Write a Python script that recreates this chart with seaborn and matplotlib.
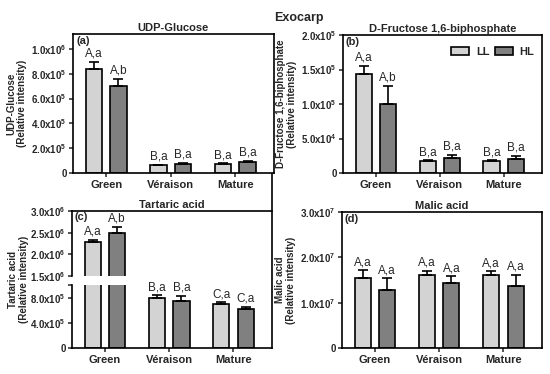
import numpy as np
import pandas as pd
import matplotlib
matplotlib.use("Agg")
import matplotlib.pyplot as plt
import seaborn as sns

# data
stages = ["Green", "Véraison", "Mature"]
lights = ["LL", "HL"]

udp_ll = [8.4e5, 0.62e5, 0.72e5]
udp_ll_err = [0.55e5, 0.04e5, 0.06e5]
udp_hl = [6.97e5, 0.72e5, 0.88e5]
udp_hl_err = [0.62e5, 0.10e5, 0.12e5]
udp_lab_ll = ["A,a", "B,a", "B,a"]
udp_lab_hl = ["A,b", "B,a", "B,a"]

fbp_ll = [1.44e5, 0.175e5, 0.175e5]
fbp_ll_err = [0.11e5, 0.01e5, 0.01e5]
fbp_hl = [1.0e5, 0.215e5, 0.21e5]
fbp_hl_err = [0.26e5, 0.05e5, 0.04e5]
fbp_lab_ll = ["A,a", "B,a", "B,a"]
fbp_lab_hl = ["A,b", "B,a", "B,a"]

tart_ll = [2.29e6, 8.0e5, 7.0e5]
tart_ll_err = [0.04e6, 0.4e5, 0.25e5]
tart_hl = [2.49e6, 7.4e5, 6.15e5]
tart_hl_err = [0.15e6, 0.85e5, 0.35e5]
tart_lab_ll = ["A,a", "B,a", "C,a"]
tart_lab_hl = ["A,b", "B,a", "C,a"]

mal_ll = [1.54e7, 1.62e7, 1.60e7]
mal_ll_err = [0.17e7, 0.08e7, 0.09e7]
mal_hl = [1.29e7, 1.43e7, 1.37e7]
mal_hl_err = [0.25e7, 0.15e7, 0.25e7]
mal_lab_ll = ["A,a", "A,a", "A,a"]
mal_lab_hl = ["A,a", "A,a", "A,a"]

sns.set_style("ticks")
plt.rcParams["font.family"] = ["Liberation Sans", "DejaVu Sans"]
plt.rcParams["mathtext.fontset"] = "custom"
plt.rcParams["mathtext.bf"] = "Liberation Sans:bold"
plt.rcParams["mathtext.rm"] = "Liberation Sans:bold"
plt.rcParams["mathtext.default"] = "bf"

palette = {"LL": "#d3d3d3", "HL": "#808080"}


def sci(v):
    if v == 0:
        return "0"
    e = int(np.floor(np.log10(v)))
    m = v / 10 ** e
    return f"{m:.1f}x10$^{{{e}}}$"


def make_df(ll, hl):
    return pd.DataFrame({
        "stage": stages * 2,
        "light": ["LL"] * 3 + ["HL"] * 3,
        "value": list(ll) + list(hl),
    })


def draw_bars(ax, df, legend=False):
    sns.barplot(data=df, x="stage", y="value", hue="light", hue_order=lights,
                palette=palette, width=0.76, gap=0.34, edgecolor="black",
                linewidth=1.2, errorbar=None, ax=ax, legend=legend)
    ax.set_xlim(-0.515, 2.6)
    ax.set_xlabel("")
    ax.set_ylabel("")


def add_err(ax, errs):
    for cont, err in zip(ax.containers, errs):
        for bar, e in zip(cont, err):
            x = bar.get_x() + bar.get_width() / 2
            h = bar.get_height()
            ax.errorbar(x, h, yerr=[[0], [e]], color="black", capsize=3.5,
                        elinewidth=1.2, capthick=1.2, zorder=1)


def add_letters(axes, vals, errs, labels, split=None):
    # axes: one axis, or (upper, lower) pair for broken axis
    ref = axes[-1]
    for cont, v, er, lab in zip(ref.containers, vals, errs, labels):
        for j, bar in enumerate(cont):
            x = bar.get_x() + bar.get_width() / 2
            top = v[j] + er[j]
            ax = axes[0] if (split is not None and top > split) else ref
            ax.annotate(lab[j], (x, top), xytext=(0, 1.5), textcoords="offset points",
                        ha="center", va="bottom", fontsize=8.5, fontweight="normal")


def style_ax(ax, title=None, tag=None, ylabel=None, ticks=None):
    for s in ax.spines.values():
        s.set_visible(True)
        s.set_linewidth(1.2)
        s.set_color("black")
    ax.tick_params(axis="both", direction="out", length=3, width=1.1, labelsize=7, pad=1.5)
    ax.tick_params(axis="x", labelsize=8, pad=2)
    for lbl in ax.get_xticklabels():
        lbl.set_fontweight("bold")
    if ticks is not None:
        ax.set_yticks(ticks)
        ax.set_yticklabels([sci(t) for t in ticks], fontweight="bold")
    if title:
        ax.set_title(title, fontsize=8, fontweight="bold", pad=2)
    if tag:
        ax.text(0.015, 0.985, tag, transform=ax.transAxes, ha="left", va="top",
                fontsize=8, fontweight="bold")
    if ylabel:
        ax.set_ylabel(ylabel, fontsize=7, fontweight="bold", labelpad=3, linespacing=1.1)


fig = plt.figure(figsize=(5.5, 3.74), dpi=100)

# (a) UDP-Glucose
ax_a = fig.add_axes([0.1327, 0.5374, 0.3655, 0.3717])
draw_bars(ax_a, make_df(udp_ll, udp_hl))
ax_a.set_ylim(0, 1.12e6)
add_err(ax_a, [udp_ll_err, udp_hl_err])
add_letters([ax_a], [udp_ll, udp_hl], [udp_ll_err, udp_hl_err], [udp_lab_ll, udp_lab_hl])
style_ax(ax_a, "UDP-Glucose", "(a)", "UDP-Glucose\n(Relative intensity)",
         [0, 2e5, 4e5, 6e5, 8e5, 1e6])

# (b) D-Fructose 1,6-biphosphate
ax_b = fig.add_axes([0.6236, 0.5374, 0.3618, 0.369])
draw_bars(ax_b, make_df(fbp_ll, fbp_hl), legend=True)
ax_b.set_ylim(0, 2.0e5)
add_err(ax_b, [fbp_ll_err, fbp_hl_err])
add_letters([ax_b], [fbp_ll, fbp_hl], [fbp_ll_err, fbp_hl_err], [fbp_lab_ll, fbp_lab_hl])
style_ax(ax_b, "D-Fructose 1,6-biphosphate", "(b)",
         "D-Fructose 1,6-biphosphate\n(Relative intensity)",
         [0, 5e4, 1e5, 1.5e5, 2e5])
leg = ax_b.legend(loc="upper right", ncol=2, frameon=False, fontsize=8,
                  handlelength=1.6, handleheight=0.7, columnspacing=0.5,
                  handletextpad=0.6, borderaxespad=0.3, bbox_to_anchor=(1.0, 0.97))
for t in leg.get_texts():
    t.set_fontweight("bold")

# (c) Tartaric acid, broken axis
ax_cu = fig.add_axes([0.1309, 0.262, 0.3636, 0.1738])
ax_cl = fig.add_axes([0.1309, 0.0695, 0.3636, 0.1684])
ax_cf = fig.add_axes([0.1309, 0.0695, 0.3636, 0.4663], zorder=-1)
ax_cf.set_facecolor("none")
ax_cf.set_xticks([])
ax_cf.set_yticks([])
for k, s in ax_cf.spines.items():
    s.set_visible(k == "right")
    s.set_linewidth(1.2)
    s.set_color("black")
ax_cu.set_facecolor("none")
ax_cl.set_facecolor("none")
df_t = make_df(tart_ll, tart_hl)
draw_bars(ax_cu, df_t)
draw_bars(ax_cl, df_t)
ax_cu.set_ylim(1.5e6, 3.0e6)
ax_cl.set_ylim(0, 1.0e6)
add_err(ax_cu, [tart_ll_err, tart_hl_err])
add_err(ax_cl, [tart_ll_err, tart_hl_err])
add_letters([ax_cu, ax_cl], [tart_ll, tart_hl], [tart_ll_err, tart_hl_err],
            [tart_lab_ll, tart_lab_hl], split=1.2e6)
style_ax(ax_cu, "Tartaric acid", "(c)", None, [1.5e6, 2.0e6, 2.5e6, 3.0e6])
style_ax(ax_cl, None, None, "Tartaric acid\n(Relative intensity)", [0, 4e5, 8e5, 1e6])
ax_cl.set_yticklabels(["0", sci(4e5), sci(8e5), ""], fontweight="bold")
ax_cl.yaxis.set_label_coords(-0.215, 1.087)
ax_cu.spines["bottom"].set_visible(False)
ax_cu.spines["right"].set_visible(False)
ax_cu.tick_params(axis="x", bottom=False, labelbottom=False)
ax_cl.spines["top"].set_visible(False)
ax_cl.spines["right"].set_visible(False)

# (d) Malic acid
ax_d = fig.add_axes([0.6218, 0.0695, 0.3636, 0.3636])
draw_bars(ax_d, make_df(mal_ll, mal_hl))
ax_d.set_ylim(0, 3.0e7)
add_err(ax_d, [mal_ll_err, mal_hl_err])
add_letters([ax_d], [mal_ll, mal_hl], [mal_ll_err, mal_hl_err], [mal_lab_ll, mal_lab_hl])
style_ax(ax_d, "Malic acid", "(d)", "Malic acid\n(Relative intensity)",
         [0, 1e7, 2e7, 3e7])

fig.text(299 / 550, 1 - 18 / 374, "Exocarp", ha="center", va="center",
         fontsize=9, fontweight="bold")

fig.savefig("out.png", dpi=100)
